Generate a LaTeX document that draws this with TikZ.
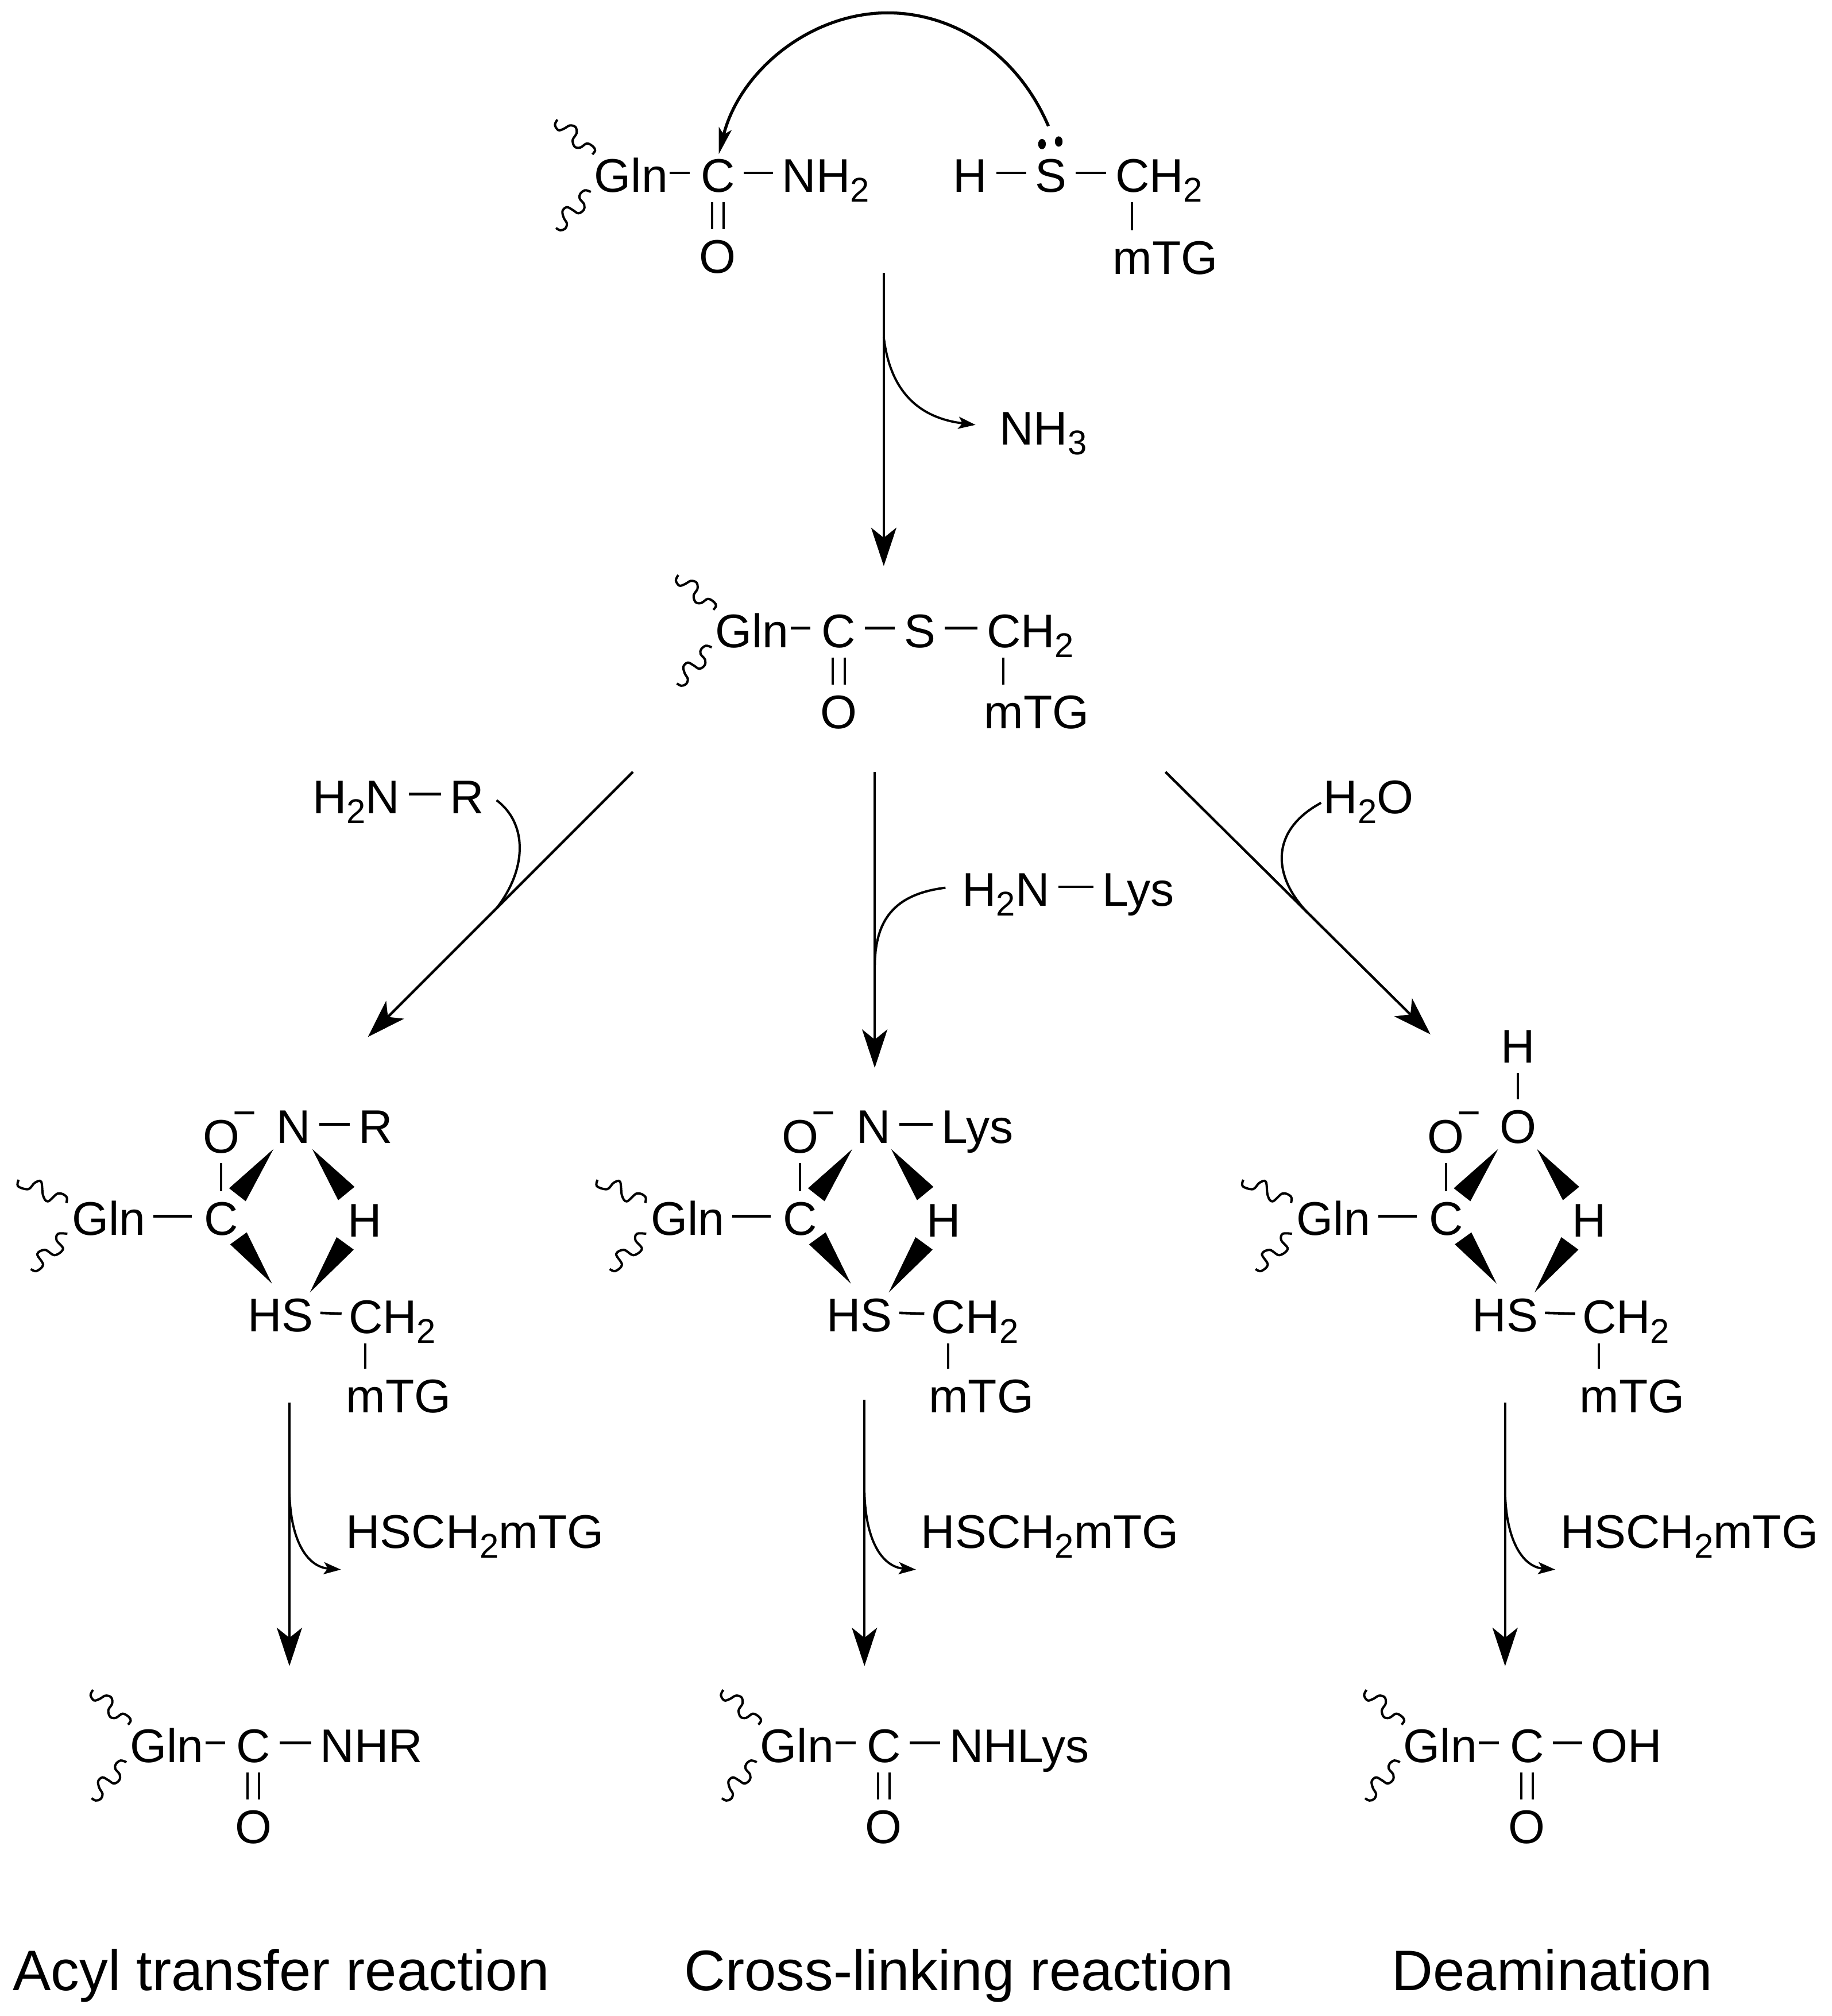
\documentclass[tikz,border=0pt]{standalone}
\usepackage{fontspec}
\setmainfont{Liberation Sans}
\usetikzlibrary{arrows.meta,calc}
\newcommand\chemsub[1]{\raisebox{-4.9pt}{\fontsize{17}{17}\selectfont #1}}
\newcommand\hb[3][]{\draw[bond,#1] ($(#2)+(0,-1.7)$) -- ($(#3)+(0,-1.7)$);}
\tikzset{
  atom/.style={inner sep=0pt,outer sep=0pt,text height=16.8pt,text depth=0pt,font=\fontsize{23.4}{28}\selectfont},
  caption/.style={inner sep=0pt,outer sep=0pt,anchor=base west,font=\fontsize{28.3}{34}\selectfont},
  bond/.style={line width=1.3pt,shorten <=4.5pt,shorten >=4.5pt},
  plain/.style={line width=1.15pt},
  wave/.style={line width=1.15pt,smooth,tension=0.6},
  rxn/.style={line width=1.25pt,-{Stealth[length=19pt,width=12.5pt,inset=5pt]}},
  side/.style={line width=1.1pt,-{Stealth[length=8.5pt,width=6pt,inset=2pt]}},
  feed/.style={line width=1.15pt},
  curly/.style={line width=1.5pt,-{Stealth[length=13pt,width=6.5pt,inset=3pt]}},
  wedgefill/.style={fill=black,draw=none},
  charge/.style={inner sep=0pt,outer sep=0pt,font=\fontsize{20}{20}\selectfont},
}
% Gln-C(=O) fragment: #1 prefix, #2 C x, #3 C y
\newcommand\glnco[3]{
  \begin{scope}[shift={(#2,#3)}]
    \node[atom,anchor=center] (#1c) at (0,0) {C};
    \node[atom,anchor=west] (#1g) at (-96,0) {Gln};
    \node[atom,anchor=center] (#1o) at (0,63) {O};
    \hb[shorten <=1pt,shorten >=5.5pt]{#1g.east}{#1c.west}
    \draw[plain,shorten <=5pt,shorten >=5pt] ($(#1c.south)+(-4.5,0)$) -- ($(#1o.north)+(-4.5,0)$);
    \draw[plain,shorten <=5pt,shorten >=5pt] ($(#1c.south)+(4.5,0)$) -- ($(#1o.north)+(4.5,0)$);
    \begin{scope}[shift={(-96,0)}]
      \draw[wave] plot coordinates {(-28.7,-43) (-30.6,-38.9) (-27.9,-34.8) (-23.5,-36) (-19,-38.5) (-14.6,-37.2) (-13.8,-32.4) (-16.8,-27.2) (-15.3,-22) (-10.9,-21.3) (-5.7,-24.5) (-0.9,-22) (0.6,-19) (-1.5,-16)};
      \draw[wave] plot coordinates {(-2.7,13.2) (-7.2,11.9) (-10.9,14.6) (-11.4,18.3) (-7.9,22.8) (-8.3,27.2) (-12.4,29.8) (-16.8,27.2) (-21.3,25) (-24.7,28) (-23.8,33.2) (-21.3,37.8) (-22.8,41.8) (-26.5,43) (-29.8,41.2)};
    \end{scope}
  \end{scope}
}
% intermediate: #1 prefix, #2 C x, #3 CH2 dx
\newcommand\inter[3]{
  \begin{scope}[shift={(#2,949)}]
    \node[atom,anchor=center] (#1c) at (0,-2) {C};
    \node[atom,anchor=west] (#1g) at (-116,-2) {Gln};
    \node[atom,anchor=center] (#1o) at (0,-66) {O};
    \node[charge] (#1q) at (18,-79) {−};
    \node[atom,anchor=center] (#1h) at (111.5,-1) {H};
    \node[atom,anchor=west] (#1s) at (20.5,73) {HS};
    \node[atom,anchor=west] (#1m) at (#3,74) {CH\chemsub{2}};
    \node[atom,anchor=west] (#1t) at ($(#3,74)+(-2,62)$) {mTG};
    \draw[plain,shorten <=5pt,shorten >=5pt] (#1c.north) -- (#1o.south);
    \hb[shorten <=4pt,shorten >=6pt]{#1g.east}{#1c.west}
    \hb[shorten <=3.5pt,shorten >=3.5pt]{#1s.east}{#1m.west}
    \draw[plain,shorten <=5pt,shorten >=5pt] ($(#1m.south west)+(13,0)$) -- ($(#1m.south west |- #1t.north)+(13,0)$);
    \fill[wedgefill] (40.6,-55.9) -- (6.1,-25.4) -- (19,-15.3) -- cycle;
    \fill[wedgefill] (70.7,-55.9) -- (103.6,-26.5) -- (90.9,-16.1) -- cycle;
    \fill[wedgefill] (19.8,8.9) -- (6.9,18.2) -- (39.4,48.7) -- cycle;
    \fill[wedgefill] (89.7,12.6) -- (103,22.3) -- (68.9,55.6) -- cycle;
    \begin{scope}[shift={(-116,-2)}]
      \draw[wave] plot coordinates {(-41.5,-30) (-42,-25) (-34,-22.7) (-29,-27.6) (-24,-28.5) (-22.5,-17.7) (-18.7,-13.2) (-10.9,-19.4) (-4.4,-16.9) (-4.4,-12)};
      \draw[wave] plot coordinates {(-3.6,12) (-10.9,12) (-12,17) (-7,23.7) (-13.5,28.6) (-21,24.5) (-27,27.8) (-22.5,36) (-27.7,41) (-32,39.4)};
    \end{scope}
  \end{scope}
}
\begin{document}
\begin{tikzpicture}[x=0.0224cm,y=-0.0224cm]
\useasboundingbox (0,0) rectangle (1424.1,1567);
\fill[white] (0,0) rectangle (1424.1,1567);

% top reactants
\glnco{a}{558}{136}
\node[atom,anchor=west] (anh) at (608,136) {NH\chemsub{2}};
\hb{ac.east}{anh.west}
\node[atom,anchor=west] (bh) at (741,136) {H};
\node[atom,anchor=center] (bs) at (817,136) {S};
\node[atom,anchor=west] (bm) at (867,136) {CH\chemsub{2}};
\node[atom,anchor=west] (bt) at (865,200) {mTG};
\hb{bh.east}{bs.west}
\hb{bs.east}{bm.west}
\draw[plain,shorten <=5pt,shorten >=5pt] ($(bm.south west)+(13,0)$) -- ($(bm.south west |- bt.north)+(13,0)$);
\fill (810,112) ellipse (3 and 4);
\fill (823,110) ellipse (3 and 4);
\coordinate (cstart) at (815,98);
\draw[curly,shorten >=2pt] (cstart) .. controls (790,40) and (740,10) .. (690,10) .. controls (630,10) and (575,55) .. (ac.north);

% step 1
\coordinate (s1a) at (687,212);
\coordinate (s1b) at (687,440);
\coordinate (s1c) at (687,262);
\draw[rxn] (s1a) -- (s1b);
\node[atom,anchor=west] (nh3) at (777,332.5) {NH\chemsub{3}};
\draw[side,shorten >=12pt] (s1c) .. controls (692,305) and (715,325) .. (nh3.west);

% thioester
\glnco{d}{652}{490}
\node[atom,anchor=center] (ds) at (715,490) {S};
\node[atom,anchor=west] (dm) at (767,490) {CH\chemsub{2}};
\node[atom,anchor=west] (dt) at (765,553) {mTG};
\hb{dc.east}{ds.west}
\hb{ds.east}{dm.west}
\draw[plain,shorten <=5pt,shorten >=5pt] ($(dm.south west)+(13,0)$) -- ($(dm.south west |- dt.north)+(13,0)$);

% branches
\coordinate (ls) at (492,600);
\coordinate (le) at (286,806);
\coordinate (lj) at (386,706);
\draw[rxn] (ls) -- (le);
\coordinate (ms) at (680,600);
\coordinate (me) at (680,830);
\coordinate (mj) at (680,752);
\draw[rxn] (ms) -- (me);
\coordinate (rs) at (906,600);
\coordinate (re) at (1112,804);
\coordinate (rj) at (1017,710);
\draw[rxn] (rs) -- (re);

\node[atom,anchor=west] (lh) at (243,619) {H\chemsub{2}N};
\node[atom,anchor=west] (lr) at (350,619) {R};
\hb{lh.east}{lr.west}
\coordinate (lf) at (386,622);
\draw[feed] (lf) .. controls (410,640) and (410,675) .. (lj);

\node[atom,anchor=west] (mh) at (748,691) {H\chemsub{2}N};
\node[atom,anchor=west] (mr) at (857,691) {Lys};
\hb{mh.east}{mr.west}
\coordinate (mf) at (735,690);
\draw[feed] (mf) .. controls (695,695) and (680,715) .. (mj);

\node[atom,anchor=west] (wa) at (1029,619) {H\chemsub{2}O};
\coordinate (wf) at (1027,624);
\draw[feed] (wf) .. controls (988,645) and (988,680) .. (rj);

% intermediates
\inter{p}{172}{99}
\node[atom,anchor=center] (pn) at (228,875.5) {N};
\node[atom,anchor=west] (pr) at (279,875.5) {R};
\hb{pn.east}{pr.west}

\inter{q}{622}{102}
\node[atom,anchor=center] (qn) at (679,875.5) {N};
\node[atom,anchor=west] (qr) at (732,875.5) {Lys};
\hb{qn.east}{qr.west}

\inter{r}{1124}{106}
\node[atom,anchor=center] (rn) at (1180,875.5) {O};
\node[atom,anchor=center] (rh) at (1180,813) {H};
\draw[plain,shorten <=5pt,shorten >=5pt] (rh.south) -- (rn.north);

% final steps
\coordinate (f1a) at (225,1090);
\coordinate (f1b) at (225,1295);
\coordinate (f1c) at (225,1160);
\draw[rxn] (f1a) -- (f1b);
\node[atom,anchor=west] (f1t) at (269,1190) {HSCH\chemsub{2}mTG};
\coordinate (f1d) at (265,1220);
\draw[side] (f1c) .. controls (226,1200) and (240,1218) .. (f1d);

\coordinate (f2a) at (672,1088);
\coordinate (f2b) at (672,1295);
\coordinate (f2c) at (672,1160);
\draw[rxn] (f2a) -- (f2b);
\node[atom,anchor=west] (f2t) at (716,1190) {HSCH\chemsub{2}mTG};
\coordinate (f2d) at (712,1220);
\draw[side] (f2c) .. controls (673,1200) and (687,1218) .. (f2d);

\coordinate (f3a) at (1170,1090);
\coordinate (f3b) at (1170,1295);
\coordinate (f3c) at (1170,1160);
\draw[rxn] (f3a) -- (f3b);
\node[atom,anchor=west] (f3t) at (1213,1190) {HSCH\chemsub{2}mTG};
\coordinate (f3d) at (1209,1220);
\draw[side] (f3c) .. controls (1171,1200) and (1185,1218) .. (f3d);

% products
\glnco{u}{197}{1356.5}
\node[atom,anchor=west] (un) at (249,1356.5) {NHR};
\hb{uc.east}{un.west}
\glnco{v}{687}{1356.5}
\node[atom,anchor=west] (vn) at (738,1356.5) {NHLys};
\hb{vc.east}{vn.west}
\glnco{w}{1187}{1356.5}
\node[atom,anchor=west] (wn) at (1237,1356.5) {OH};
\hb{wc.east}{wn.west}

% captions
\node[caption] (cap1) at (10,1547) {Acyl transfer reaction};
\node[caption] (cap2) at (532,1547) {Cross-linking reaction};
\node[caption] (cap3) at (1082,1547) {Deamination};
\end{tikzpicture}
\end{document}
